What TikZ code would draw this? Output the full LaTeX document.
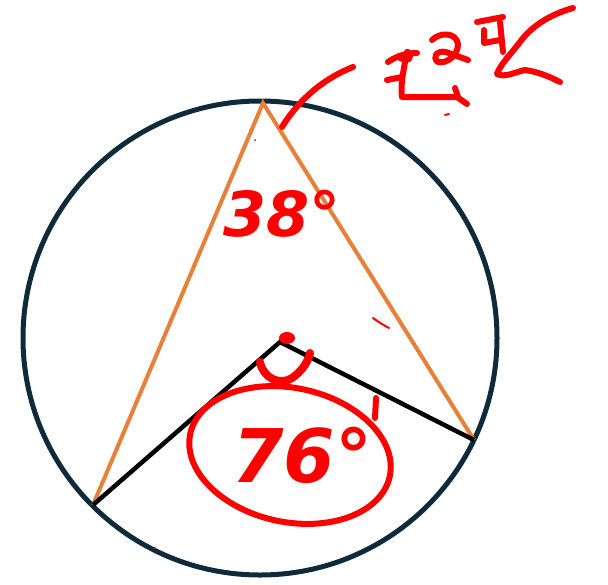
\documentclass[tikz,border=0pt]{standalone}
\usepackage{fontspec}
\setmainfont{DejaVu Sans}
\begin{document}
\begin{tikzpicture}[x=1pt,y=-1pt,
  ring/.style={draw=navy, line width=5pt},
  chord/.style={draw=orng, line width=4pt},
  radius line/.style={draw=black, line width=4.5pt},
  ink/.style={draw=red, line width=6pt, line cap=round, line join=round},
  thinink/.style={draw=red, line width=2pt, line cap=round},
  hand/.style={text=red, inner sep=0pt}]
\definecolor{navy}{HTML}{0F2A3A}
\definecolor{orng}{HTML}{E8803A}
\useasboundingbox (0,0) rectangle (608,584);
\coordinate (O) at (260,338);
\coordinate (A) at (263,103);
\coordinate (B) at (93,505);
\coordinate (C) at (474,440);
\coordinate (M) at (280,342);
\draw[ring] (O) circle [radius=237];
\draw[chord, line join=miter] (B) -- (A) -- (C);
\draw[radius line, line join=miter] (B) -- (M) -- (C);
% angle labels
\node[hand, font=\fontsize{62}{62}\selectfont\bfseries\itshape] (a38) at (282,214) {38°};
\node[hand, font=\fontsize{74}{74}\selectfont\bfseries\itshape] (a76) at (302,455) {76°};
\draw[ink] (290,455) ellipse [x radius=102, y radius=67, rotate=-12];
\draw[ink] (375,418) -- (376,398);
% arc at centre
\fill[red] (287,338) ellipse [x radius=8, y radius=6];
\draw[ink, line width=8pt] (260,362) .. controls (263,378) and (280,386) .. (292,378) .. controls (302,371) and (308,362) .. (310,353);
% pointer stroke
\draw[ink] (282,127) .. controls (300,98) and (325,78) .. (353,67);
% handwritten word
\draw[ink] (388,62) .. controls (398,55) and (408,53) .. (417,53);
\draw[ink] (400,58) .. controls (410,62) and (412,58) .. (408,52);
\draw[ink] (407,52) .. controls (404,68) and (400,85) .. (402,97) -- (457,97) -- (467,104);
\draw[ink] (387,80) -- (402,77);
\draw[ink] (455,88) -- (458,97);
\draw[ink] (432,40) .. controls (440,32) and (456,32) .. (458,44) .. controls (458,56) and (446,64) .. (438,62) .. controls (432,58) and (436,50) .. (446,52) -- (468,60);
\draw[ink] (477,22) -- (503,17);
\draw[ink] (484,30) -- (484,43) -- (500,40);
\draw[ink] (500,22) -- (503,52);
\draw[ink] (573,8) .. controls (548,15) and (530,28) .. (520,42) .. controls (510,55) and (500,65) .. (497,74) .. controls (505,78) and (515,72) .. (525,70) .. controls (540,72) and (552,78) .. (560,82);
\draw[thinink] (445,115) -- (449,114);
\draw[thinink] (373,318) .. controls (380,323) and (385,326) .. (389,328);
\fill[red] (155,548) circle [radius=1.2];
\fill[red] (255,140) circle [radius=1];
\end{tikzpicture}
\end{document}
